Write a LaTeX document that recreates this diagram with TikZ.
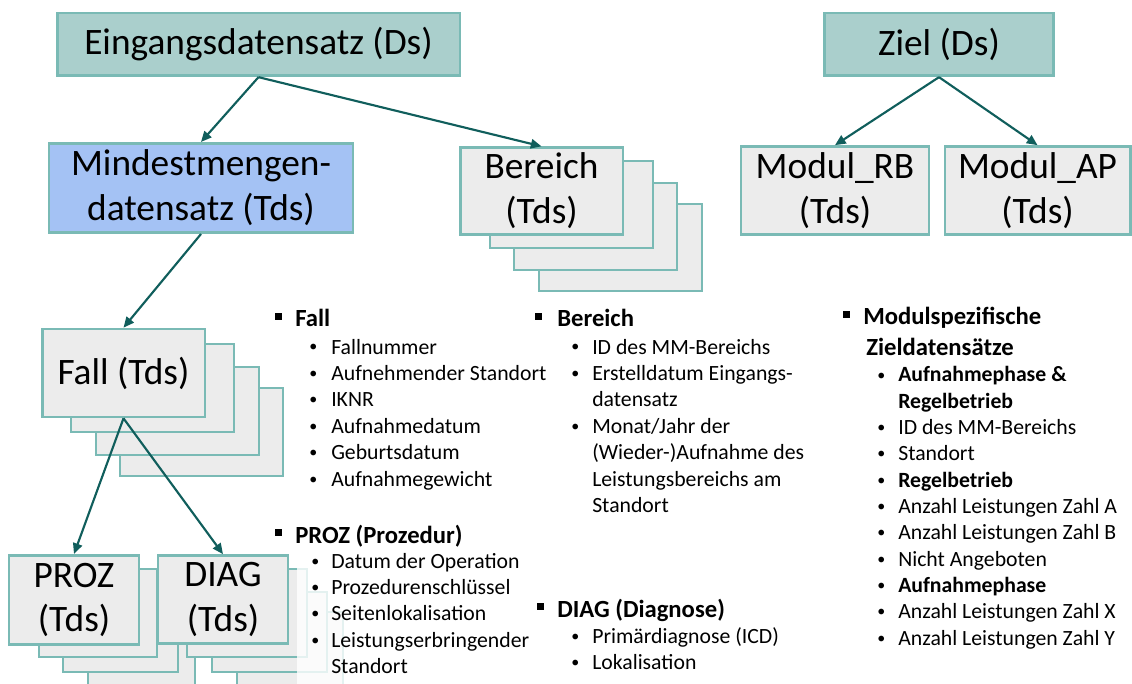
\documentclass[tikz,border=0pt]{standalone}
\usepackage{fontspec}
\setmainfont{Carlito}
\usetikzlibrary{arrows.meta}
\definecolor{dsfill}{RGB}{170,207,204}
\definecolor{tdsfill}{RGB}{236,236,236}
\definecolor{mmfill}{RGB}{164,194,244}
\definecolor{boxline}{RGB}{122,186,181}
\definecolor{linkteal}{RGB}{16,94,92}

\begin{document}
\begin{tikzpicture}[x=0.75pt,y=-0.75pt,
    box/.style={draw=boxline, line width=2pt, inner sep=0pt, align=center, font=\fontsize{28}{33.6}\selectfont},
    ds/.style={box, fill=dsfill},
    tds/.style={box, fill=tdsfill},
    backbox/.style={draw=boxline, line width=2pt, fill=tdsfill},
    link/.style={draw=linkteal, line width=1.6pt, -{Triangle[length=8pt,width=7pt]}},
    head/.style={anchor=base west, inner sep=0pt, font=\fontsize{18.5}{22}\selectfont\bfseries},
    item/.style={anchor=base west, inner sep=0pt, font=\fontsize{16.3}{19}\selectfont},
    bullet/.style={anchor=base west, inner sep=0pt, font=\fontsize{12}{14}\selectfont}]
    \useasboundingbox (0,0) rectangle (1132,684);

        % top row
        \node[ds, minimum width=302pt, minimum height=47pt] (eingang) at (258.5,44.5) {Eingangsdatensatz (Ds)};
        \node[ds, minimum width=172pt, minimum height=47pt] (ziel) at (939,44.5) {Ziel (Ds)};

        % second row
        \node[box, fill=mmfill, minimum width=228pt, minimum height=67pt] (mindest) at (201,188) {Mindestmengen-\\datensatz (Tds)};
        \foreach \dx/\dy in {79/58,54/37,30/15}
          {\filldraw[backbox] (460+\dx,146+\dy) rectangle +(163,87);}
        \node[tds, minimum width=122pt, minimum height=65pt] (bereich) at (541.5,191) {Bereich\\(Tds)};
        \node[tds, minimum width=141pt, minimum height=66pt] (modulrb) at (835,190.5) {Modul\_RB\\(Tds)};
        \node[tds, minimum width=139pt, minimum height=66pt] (modulap) at (1037.5,190.5) {Modul\_AP\\(Tds)};

        % Fall stack
        \foreach \dx/\dy in {78/59,54/38,29/15}
          {\filldraw[backbox] (42+\dx,329+\dy) rectangle +(163,88);}
        \node[tds, minimum width=122pt, minimum height=66pt] (fall) at (123.5,373) {Fall (Tds)};

        % PROZ and DIAG stacks
        \filldraw[backbox] (88,612) rectangle (195,692);
        \filldraw[backbox] (63,592) rectangle (178,672);
        \filldraw[backbox] (39,569) rectangle (157,657);
        \node[tds, minimum width=97.5pt, minimum height=67pt] (proz) at (74,600) {PROZ\\(Tds)};
        \filldraw[backbox] (237,612) rectangle (343,692);
        \filldraw[backbox] (212,592) rectangle (327,672);
        \filldraw[backbox] (187,569) rectangle (307,657);
        \node[tds, minimum width=97.5pt, minimum height=66pt] (diag) at (223,599.5) {DIAG\\(Tds)};
        \fill[white, opacity=0.8] (297,560) rectangle (348,692);

        % arrows
        \draw[link] (eingang.south) -- (mindest.north);
        \draw[link] (eingang.south) -- (bereich.north);
        \draw[link] (ziel.south) -- (modulrb.north);
        \draw[link] (ziel.south) -- (modulap.north);
        \draw[link] (mindest.south) -- (fall.north);
        \draw[link] (fall.south) -- (proz.north);
        \draw[link] (fall.south) -- (diag.north);

        % Fall list
        \fill (275,313) rectangle (282,320);
        \node[head] (fallhead) at (295,327) {Fall};
        \foreach \t [count=\i] in {Fallnummer, Aufnehmender Standort, IKNR, Aufnahmedatum, Geburtsdatum, Aufnahmegewicht}
          {\node[bullet] (falldot\i) at (309,352+26.4*\i-26.4) {•};
           \node[item] (fall\i) at (331,354+26.4*\i-26.4) {\t};}

        % Bereich list
        \fill (535,313) rectangle (542,320);
        \node[head] (bereichhead) at (557,327) {Bereich};
        \foreach \b/\t [count=\i] in {1/{ID des MM-Bereichs}, 1/{Erstelldatum Eingangs-}, 0/{datensatz}, 1/{Monat/Jahr der}, 0/{(Wieder-)Aufnahme des}, 0/{Leistungsbereichs am}, 0/{Standort}}
          {\ifnum\b=1 \node[bullet] (bereichdot\i) at (571,352+26.4*\i-26.4) {•};\fi
           \node[item] (bereich\i) at (592,354+26.4*\i-26.4) {\t};}

        % PROZ list
        \fill (275,529) rectangle (282,536);
        \node[head] (prozhead) at (295,543) {PROZ (Prozedur)};
        \foreach \b/\t [count=\i] in {1/{Datum der Operation}, 1/{Prozedurenschlüssel}, 1/{Seitenlokalisation}, 1/{Leistungserbringender}, 0/{Standort}}
          {\ifnum\b=1 \node[bullet] (prozdot\i) at (311,566+26.4*\i-26.4) {•};\fi
           \node[item] (proz\i) at (331,568+26.4*\i-26.4) {\t};}

        % DIAG list
        \fill (537,603) rectangle (544,610);
        \node[head] (diaghead) at (557,617) {DIAG (Diagnose)};
        \foreach \t [count=\i] in {Primärdiagnose (ICD), Lokalisation}
          {\node[bullet] (diagdot\i) at (571,641+26.4*\i-26.4) {•};
           \node[item] (diag\i) at (592,643+26.4*\i-26.4) {\t};}

        % Modul list
        \fill (843,311) rectangle (850,318);
        \node[head] (modulhead) at (863,325) {Modulspezifische};
        \node[head] (modulhead2) at (866,355) {Zieldatensätze};
        \foreach \b/\t [count=\i] in {1/{\textbf{Aufnahmephase \&}}, 0/{\textbf{Regelbetrieb}}, 1/{ID des MM-Bereichs}, 1/{Standort}, 1/{\textbf{Regelbetrieb}}, 1/{Anzahl Leistungen Zahl A}, 1/{Anzahl Leistungen Zahl B}, 1/{Nicht Angeboten}, 1/{\textbf{Aufnahmephase}}, 1/{Anzahl Leistungen Zahl X}, 1/{Anzahl Leistungen Zahl Y}}
          {\ifnum\b=1 \node[bullet] (moduldot\i) at (877,380+26.3*\i-26.3) {•};\fi
           \node[item] (modul\i) at (898,382+26.3*\i-26.3) {\t};}
\end{tikzpicture}
\end{document}
